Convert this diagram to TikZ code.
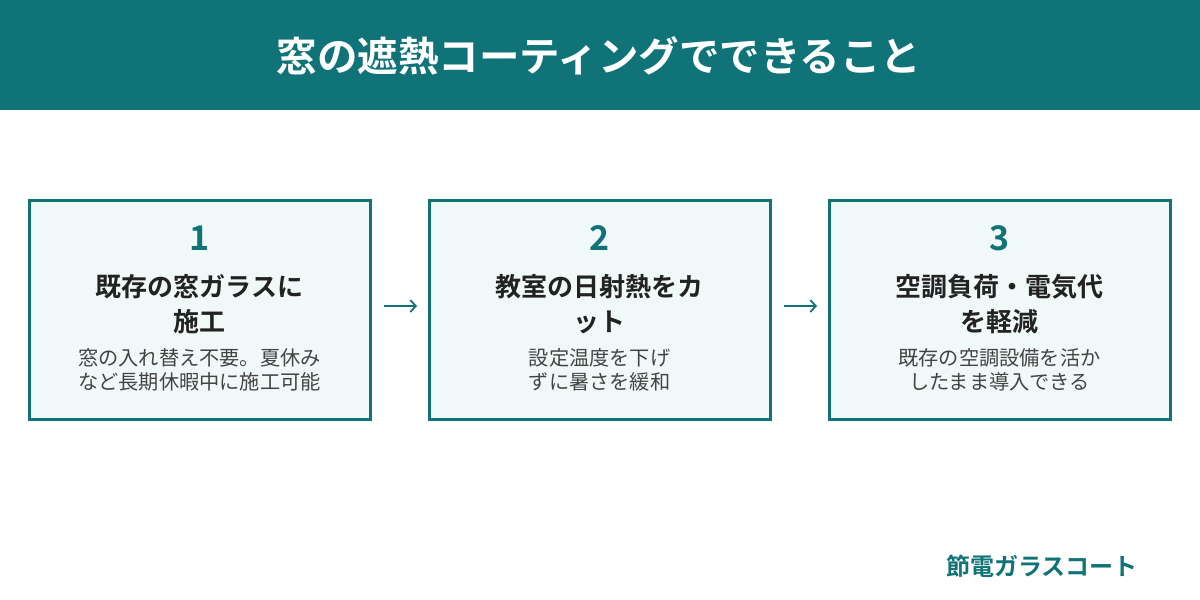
\documentclass[tikz,border=0pt]{standalone}
\usepackage{fontspec}
\setmainfont{Noto Sans CJK JP}[BoldFont={* Bold}]
\usetikzlibrary{arrows.meta}

\definecolor{tealmain}{HTML}{0F7377}
\definecolor{boxfill}{HTML}{F0F8F8}
\definecolor{headink}{HTML}{222222}
\definecolor{bodyink}{HTML}{444444}

\begin{document}
\begin{tikzpicture}[x=1pt,y=-1pt]

      \useasboundingbox (0,0) rectangle (1200,600);
      \fill[tealmain] (0,0) rectangle (1200,110);
      \node[text=white,font=\bfseries\fontsize{40.5}{46}\selectfont] (title) at (599,56) {窓の遮熱コーティングでできること};

      \begin{scope}[every node/.style={draw=tealmain,line width=3pt,fill=boxfill,minimum width=341pt,minimum height=219.5pt}]
        \node (box1) at (199.5,310) {};
        \node (box2) at (599.5,310) {};
        \node (box3) at (999.5,310) {};
      \end{scope}

      \begin{scope}[every node/.style={align=center,inner sep=0pt}]

        \begin{scope}[every node/.append style={text=tealmain,font=\bfseries\fontsize{34}{40}\selectfont}]
          \node (num1) at (199.5,238) {1};
          \node (num2) at (599.5,238) {2};
          \node (num3) at (999.5,238) {3};
        \end{scope}

        \begin{scope}[every node/.append style={text=headink,font=\bfseries\fontsize{26}{35}\selectfont}]
          \node (head1) at (199.5,304) {既存の窓ガラスに\\施工};
          \node (head2) at (599.5,304) {教室の日射熱をカ\\ット};
          \node (head3) at (999.5,304) {空調負荷・電気代\\を軽減};
        \end{scope}

        \begin{scope}[every node/.append style={text=bodyink,font=\fontsize{20.2}{24}\selectfont}]
          \node (text1) at (199.5,370) {窓の入れ替え不要。夏休み\\など長期休暇中に施工可能};
          \node (text2) at (599.5,370) {設定温度を下げ\\ずに暑さを緩和};
          \node (text3) at (999.5,370) {既存の空調設備を活か\\したまま導入できる};
        \end{scope}

      \end{scope}

      \begin{scope}[every path/.style={draw=tealmain,line width=1.8pt,-{Straight Barb[length=5.5pt,width=12pt]}}]
        \path ([xshift=12.5pt,yshift=4pt]box1.east) -- ([xshift=-10.5pt,yshift=4pt]box2.west);
        \path ([xshift=12.5pt,yshift=4pt]box2.east) -- ([xshift=-10.5pt,yshift=4pt]box3.west);
      \end{scope}

      \node[text=tealmain,font=\bfseries\fontsize{24}{28}\selectfont] (brand) at (1042,566) {節電ガラスコート};

    \end{tikzpicture}
\end{document}
